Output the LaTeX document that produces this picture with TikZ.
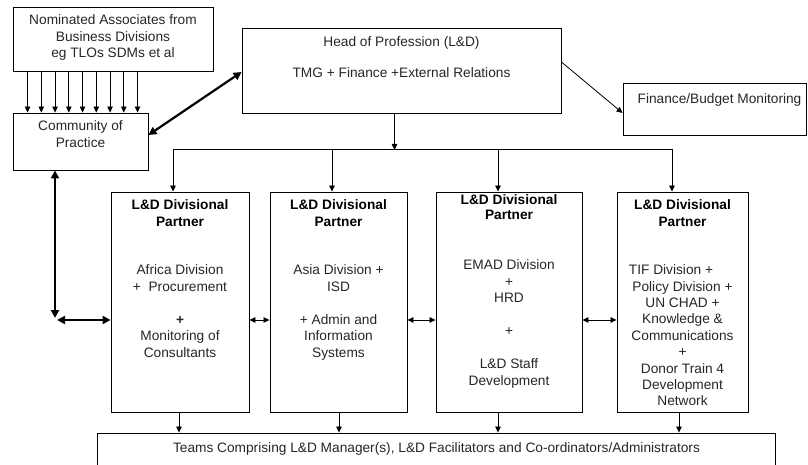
\documentclass[tikz,border=0pt]{standalone}
\usepackage{fontspec}
\setmainfont{Liberation Sans}
\usetikzlibrary{arrows.meta}
\begin{document}
\begin{tikzpicture}[x=1pt,y=-1pt,
  box/.style={draw=black, line width=0.9pt, inner sep=0pt},
  txt/.style={font=\fontsize{13.7}{16.5}\selectfont, align=center, anchor=north, inner sep=0pt, text=black!85},
  hd/.style={txt, font=\fontsize{13.7}{16.5}\selectfont\bfseries, text=black},
  link/.style={line width=0.8pt, -{Triangle[length=6pt,width=5.5pt]}},
  duo/.style={line width=0.8pt, {Triangle[length=6pt,width=5.5pt]}-{Triangle[length=6pt,width=5.5pt]}},
  bold2/.style={line width=2.2pt, {Triangle[length=8pt,width=8pt]}-{Triangle[length=8pt,width=8pt]}},
]
\useasboundingbox (0,0) rectangle (808,465);
\clip (0,0) rectangle (808,465);

% top row
\node[box, minimum width=200pt, minimum height=64pt] (nom) at (113,39) {};
\node[txt] (nomtxt) at (113,13) {\strut Nominated Associates from\\Business Divisions\\eg TLOs SDMs et al};

\node[box, minimum width=135pt, minimum height=57pt] (cop) at (80.5,141.5) {};
\node[txt] (coptxt) at (80.5,119) {\strut Community of\\Practice};

\node[box, minimum width=319pt, minimum height=85pt] (head) at (401.5,70.5) {};
\node[txt] (headtxt) at (401.5,35) {\strut Head of Profession (L\&D)\\[14.5pt]TMG + Finance +External Relations};

\node[box, minimum width=183pt, minimum height=52pt] (fin) at (714.5,109) {};
\node[txt] (fintxt) at (719.5,92) {\strut Finance/Budget Monitoring};

% divisional partners
\node[box, minimum width=138pt, minimum height=220pt] (p1) at (180,302) {};
\node[box, minimum width=137pt, minimum height=220pt] (p2) at (338.5,302) {};
\node[box, minimum width=146pt, minimum height=220pt] (p3) at (509,302) {};
\node[box, minimum width=131pt, minimum height=220pt] (p4) at (682.5,302) {};

\node[hd] (h1) at (180,198) {\strut L\&D Divisional\\Partner};
\node[hd] (h2) at (338.5,198) {\strut L\&D Divisional\\Partner};
\node[hd] (h3) at (509,193) {\strut L\&D Divisional\\[-1.5pt]Partner};
\node[hd] (h4) at (682.5,198) {\strut L\&D Divisional\\Partner};

\node[txt] (b1) at (180,263) {\strut Africa Division\\+\ \ Procurement\\[16.5pt]\textbf{+}\\Monitoring of\\Consultants};
\node[txt] (b2) at (338.5,263) {\strut Asia Division +\\ISD\\[16.5pt]+ Admin and\\Information\\Systems};
\node[txt] (b3) at (509,258) {\strut EMAD Division\\+\\HRD\\[16pt]+\\[17pt]L\&D Staff\\Development};
\node[txt, font=\fontsize{13.7}{16.4}\selectfont] (b4) at (682.5,263) {\strut TIF Division +\kern23pt\\Policy Division +\\UN CHAD +\\Knowledge \&\\Communications\\+\\Donor Train 4\\Development\\Network};

% teams
\node[box, minimum width=678pt, minimum height=47pt] (teams) at (436,456.5) {};
\node[txt] (teamstxt) at (436.5,441) {\strut Teams Comprising L\&D Manager(s), L\&D Facilitators and Co-ordinators/Administrators};

% associates feeding the community of practice
\foreach \dx in {15,28.75,42.5,56.25,70,83.75,97.5,111.25,125}
  \draw[link] ([xshift=\dx pt]nom.south west) -- ([xshift=\dx pt]cop.north west);

% community of practice <-> head of profession
\draw[bold2] ([yshift=6.5pt]cop.east) -- ([yshift=-1.5pt]head.west);

% head of profession -> finance
\draw[link] ([yshift=8.5pt]head.east) -- ([yshift=-4pt]fin.west);

% distribution bus to the partners
\coordinate (busL) at (173,149);
\coordinate (busR) at (672,149);
\draw[link] ([xshift=-7pt]head.south) -- ([xshift=-7pt,yshift=-1pt]head.south |- busL);
\draw[line width=0.8pt] (busL) -- (busR);
\coordinate (t1) at ([xshift=-7pt]p1.north);
\coordinate (t2) at ([xshift=-6.5pt]p2.north);
\coordinate (t3) at ([xshift=-11pt]p3.north);
\coordinate (t4) at ([xshift=-10.5pt]p4.north);
\foreach \t in {t1,t2,t3,t4}
  \draw[link] (\t |- busL) -- (\t);

% links between neighbouring partners
\draw[duo] ([yshift=-18pt]p1.east) -- ([yshift=-18pt]p2.west);
\draw[duo] ([yshift=-18pt]p2.east) -- ([yshift=-18pt]p3.west);
\draw[duo] ([yshift=-18pt]p3.east) -- ([yshift=-18pt]p4.west);

% community of practice <-> first partner
\coordinate (crn) at (55,320);
\draw[bold2] (cop.south -| crn) -- ([yshift=2pt]crn);
\draw[bold2] ([xshift=2pt]crn) -- ([yshift=-18pt]p1.west);

% partners -> teams
\coordinate (d1) at ([xshift=-1pt]p1.south);
\coordinate (d2) at ([xshift=0.5pt]p2.south);
\coordinate (d3) at ([xshift=-11pt]p3.south);
\coordinate (d4) at ([xshift=-3.5pt]p4.south);
\foreach \d in {d1,d2,d3,d4}
  \draw[link] (\d) -- (\d |- teams.north);
\end{tikzpicture}
\end{document}
